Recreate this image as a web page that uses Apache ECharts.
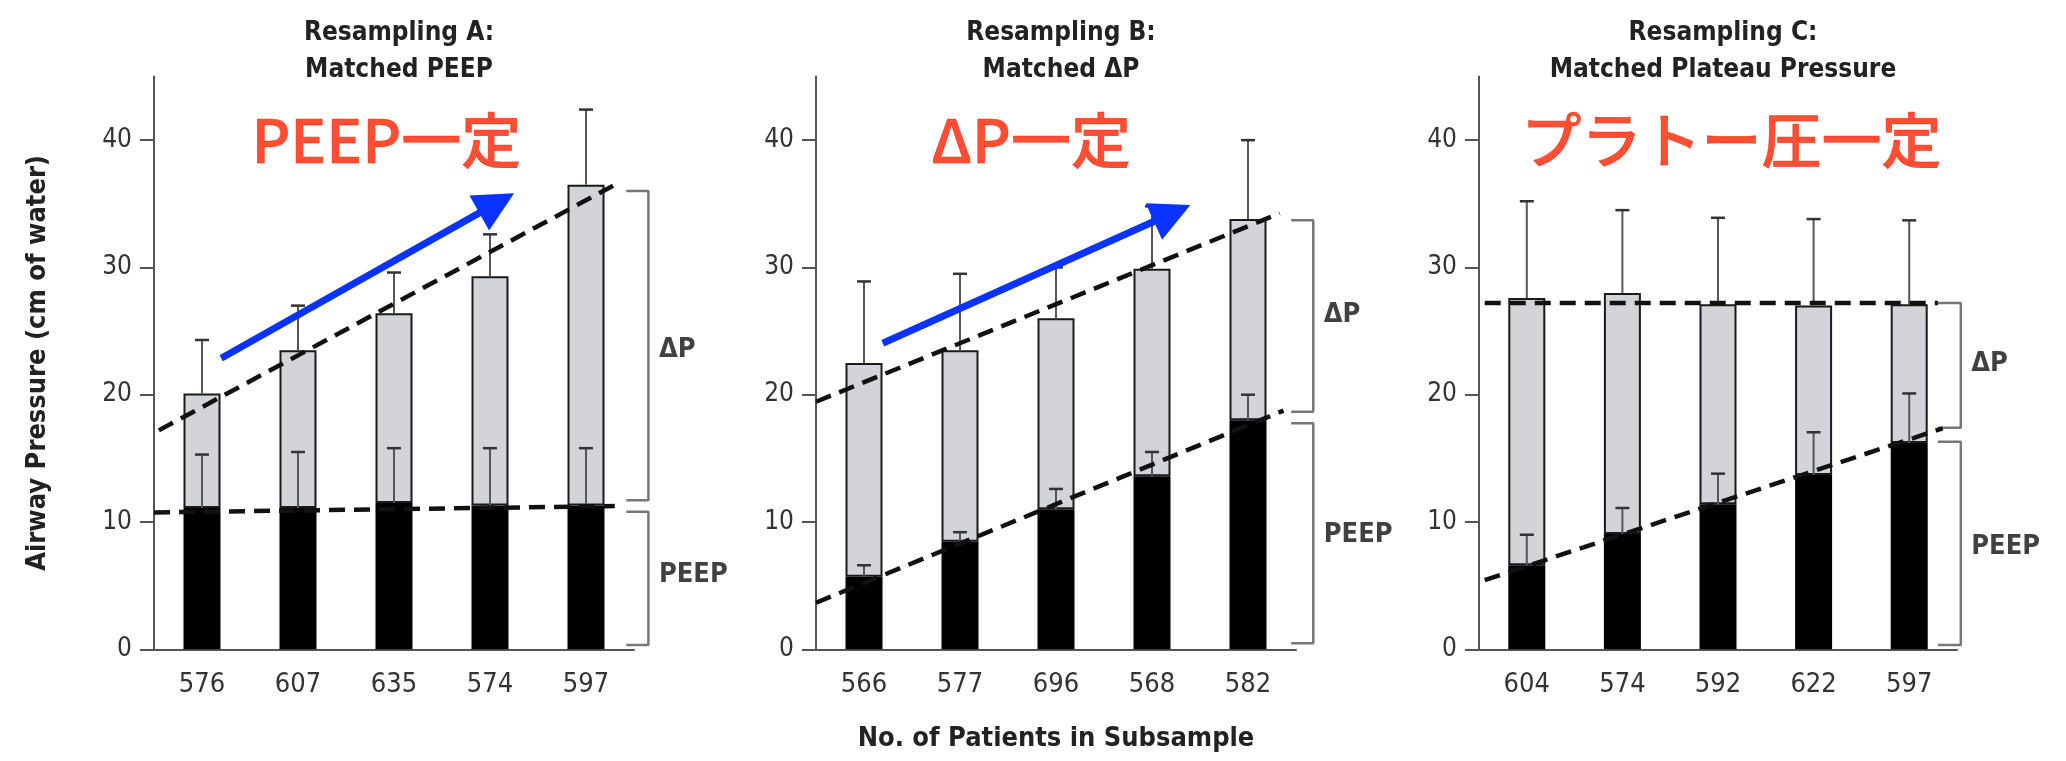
<!DOCTYPE html>
<html>
<head>
<meta charset="utf-8">
<script src="https://cdn.jsdelivr.net/npm/echarts@6/dist/echarts.min.js"></script>
<style>
  html, body { margin: 0; padding: 0; background: #fff; }
  #chart { width: 2066px; height: 761px; }
</style>
</head>
<body>
<div id="chart"></div>
<script>
// Number of patients in each subsample (x categories)
const patientsA = ['576', '607', '635', '574', '597'];
const patientsB = ['566', '577', '696', '568', '582'];
const patientsC = ['604', '574', '592', '622', '597'];

// Mean PEEP (black segment) and upper end of its SD whisker, cm H2O
const peepA = [11.1, 11.1, 11.5, 11.3, 11.3];
const peepErrA = [15.3, 15.5, 15.8, 15.8, 15.8];
const peepB = [5.7, 8.45, 11.0, 13.6, 18.0];
const peepErrB = [6.6, 9.2, 12.6, 15.5, 20.0];
const peepC = [6.6, 9.05, 11.4, 13.7, 16.2];
const peepErrC = [9.0, 11.1, 13.8, 17.05, 20.1];

// Mean plateau pressure (top of grey segment) and upper end of its SD whisker
const plateauA = [20.1, 23.5, 26.4, 29.3, 36.5];
const plateauErrA = [24.3, 27.0, 29.6, 32.6, 42.4];
const plateauB = [22.5, 23.5, 26.0, 29.9, 33.8];
const plateauErrB = [28.9, 29.5, 30.0, 34.8, 40.0];
const plateauC = [27.6, 28.0, 27.1, 27.0, 27.1];
const plateauErrC = [35.2, 34.5, 33.9, 33.8, 33.7];

// Dashed trend lines, [x, y] with x in category units (first bar = 0)
const trendPlateauA = [[-0.45, 17.2], [4.35, 36.7]];
const trendPeepA = [[-0.5, 10.75], [4.3, 11.25]];
const trendPlateauB = [[-0.5, 19.45], [4.33, 34.25]];
const trendPeepB = [[-0.5, 3.66], [4.37, 18.75]];
const trendPlateauC = [[-0.44, 27.2], [4.3, 27.2]];
const trendPeepC = [[-0.44, 5.44], [4.35, 17.36]];

// Right-hand braces: [tick start x, spine x], ΔP span, PEEP span
const braceXA = [4.42, 4.65], braceDpA = [11.7, 36.0], bracePeepA = [0.34, 10.8];
const braceXB = [4.45, 4.68], braceDpB = [18.66, 33.7], bracePeepB = [0.47, 17.75];
const braceXC = [4.30, 4.54], braceDpC = [17.4, 27.2], bracePeepC = [0.34, 16.3];
const braceLabelYA = [23.5, 5.8], braceLabelYB = [26.3, 9.0], braceLabelYC = [22.4, 8.0];

// Red call-outs and blue trend arrows
const notes = ['PEEP一定', 'ΔP一定', 'プラトー圧一定'];
const notePos = [[1.92, 40.0], [1.74, 40.0], [2.14, 40.0]];
const arrowA = [[0.2, 22.86], [3.07, 35.05]];
const arrowB = [[0.195, 24.04], [3.21, 34.26]];

const yTicks = [0, 10, 20, 30, 40];
const titles = ['Resampling A:\nMatched PEEP', 'Resampling B:\nMatched ΔP', 'Resampling C:\nMatched Plateau Pressure'];

const FONT = "'DejaVu Sans Condensed', 'DejaVu Sans', sans-serif";
const gridLeft = [154, 816, 1479];
const gridWidth = [480, 480, 478];
const gridTop = 76.5;
const gridHeight = 572.8;
// annotation layer: same scale as the bar grid, but wider so braces can sit past the axis end
const OVER = 1.2;

const panels = [
  { cats: patientsA, peep: peepA, peepErr: peepErrA, plat: plateauA, platErr: plateauErrA,
    trendTop: trendPlateauA, trendBottom: trendPeepA, braceX: braceXA, braceDp: braceDpA,
    bracePeep: bracePeepA, labelY: braceLabelYA, arrow: arrowA },
  { cats: patientsB, peep: peepB, peepErr: peepErrB, plat: plateauB, platErr: plateauErrB,
    trendTop: trendPlateauB, trendBottom: trendPeepB, braceX: braceXB, braceDp: braceDpB,
    bracePeep: bracePeepB, labelY: braceLabelYB, arrow: arrowB },
  { cats: patientsC, peep: peepC, peepErr: peepErrC, plat: plateauC, platErr: plateauErrC,
    trendTop: trendPlateauC, trendBottom: trendPeepC, braceX: braceXC, braceDp: braceDpC,
    bracePeep: bracePeepC, labelY: braceLabelYC, arrow: null }
];

const grid = [], xAxis = [], yAxis = [], series = [], title = [];

function errorBars(ai, base, top) {
  return {
    type: 'custom', xAxisIndex: ai, yAxisIndex: ai, z: 4, silent: true,
    encode: { x: 0, y: [1, 2] },
    data: base.map((b, i) => [i, b, top[i]]),
    renderItem(params, api) {
      const x = api.value(0);
      const p0 = api.coord([x, api.value(1)]);
      const p1 = api.coord([x, api.value(2)]);
      const cap = 7;
      return {
        type: 'group', children: [
          { type: 'line', shape: { x1: p0[0], y1: p0[1], x2: p1[0], y2: p1[1] },
            style: { stroke: '#555', lineWidth: 2 } },
          { type: 'line', shape: { x1: p1[0] - cap, y1: p1[1], x2: p1[0] + cap, y2: p1[1] },
            style: { stroke: '#333', lineWidth: 2.5 } }
        ]
      };
    }
  };
}

function dashed(oi, pts) {
  return {
    type: 'line', xAxisIndex: oi, yAxisIndex: oi, data: pts, symbol: 'none',
    silent: true, z: 6,
    lineStyle: { color: '#111', width: 4.5, type: [16, 9] }
  };
}

function brace(oi, bx, span) {
  return {
    type: 'line', xAxisIndex: oi, yAxisIndex: oi, symbol: 'none', silent: true,
    data: [[bx[0], span[1]], [bx[1], span[1]], [bx[1], span[0]], [bx[0], span[0]]],
    lineStyle: { color: '#777', width: 2.5 }
  };
}

panels.forEach((p, gi) => {
  const mi = gi * 2;      // bar grid / axes
  const oi = gi * 2 + 1;  // annotation grid / axes
  grid.push({ left: gridLeft[gi], top: gridTop, width: gridWidth[gi], height: gridHeight });
  grid.push({ left: gridLeft[gi], top: gridTop, width: gridWidth[gi] * OVER, height: gridHeight });
  title.push({
    text: titles[gi], left: gridLeft[gi] + gridWidth[gi] / 2, top: 10, textAlign: 'center',
    textStyle: { fontFamily: FONT, fontSize: 26, fontWeight: 'bold', color: '#222', lineHeight: 37 }
  });
  xAxis.push({
    type: 'category', gridIndex: mi, data: p.cats, boundaryGap: true,
    axisLine: { lineStyle: { color: '#555', width: 2 } },
    axisTick: { alignWithLabel: true, length: 13, lineStyle: { color: '#555', width: 2 } },
    axisLabel: { margin: 22, fontFamily: FONT, fontSize: 27, color: '#333' },
    name: gi === 1 ? 'No. of Patients in Subsample' : '',
    nameLocation: 'middle', nameGap: 76,
    nameTextStyle: { fontFamily: FONT, fontSize: 27, fontWeight: 'bold', color: '#222' }
  });
  xAxis.push({ type: 'value', gridIndex: oi, min: -0.5, max: -0.5 + 5 * OVER, show: false });
  yAxis.push({
    type: 'value', gridIndex: mi, min: 0, max: 45,
    splitLine: { show: false },
    axisLine: { show: true, lineStyle: { color: '#555', width: 2 } },
    axisTick: { show: true, length: 14, customValues: yTicks, lineStyle: { color: '#555', width: 2 } },
    axisLabel: { margin: 22, customValues: yTicks, fontFamily: FONT, fontSize: 26, color: '#333' },
    name: gi === 0 ? 'Airway Pressure (cm of water)' : '',
    nameLocation: 'middle', nameGap: 103, nameRotate: 90,
    nameTextStyle: { fontFamily: FONT, fontSize: 27, fontWeight: 'bold', color: '#222' }
  });
  yAxis.push({ type: 'value', gridIndex: oi, min: 0, max: 45, show: false });

  // stacked bars: PEEP (black) + ΔP (grey) = plateau pressure
  series.push({
    type: 'bar', xAxisIndex: mi, yAxisIndex: mi, stack: 'p' + gi, barWidth: 37, silent: true,
    data: p.peep, itemStyle: { color: '#000' }, z: 2
  });
  series.push({
    type: 'bar', xAxisIndex: mi, yAxisIndex: mi, stack: 'p' + gi, barWidth: 37, silent: true,
    data: p.plat.map((v, i) => +(v - p.peep[i]).toFixed(2)),
    itemStyle: { color: '#d3d4d8', borderColor: '#1a1a1a', borderWidth: 2 }, z: 2
  });
  series.push(errorBars(mi, p.peep, p.peepErr));
  series.push(errorBars(mi, p.plat, p.platErr));
  series.push(dashed(oi, p.trendTop));
  series.push(dashed(oi, p.trendBottom));
  series.push(brace(oi, p.braceX, p.braceDp));
  series.push(brace(oi, p.braceX, p.bracePeep));

  // brace labels
  series.push({
    type: 'scatter', xAxisIndex: oi, yAxisIndex: oi, silent: true,
    symbolSize: 1, itemStyle: { color: 'rgba(0,0,0,0)' },
    data: [
      { name: 'ΔP', value: [p.braceX[1], p.labelY[0]] },
      { name: 'PEEP', value: [p.braceX[1], p.labelY[1]] }
    ],
    label: { show: true, position: 'right', distance: 10, formatter: '{b}',
      fontFamily: FONT, fontSize: 27, fontWeight: 'bold', color: '#111' }
  });

  // red call-out
  series.push({
    type: 'scatter', xAxisIndex: oi, yAxisIndex: oi, silent: true,
    symbolSize: 1, itemStyle: { color: 'rgba(0,0,0,0)' }, z: 8,
    data: [{ name: notes[gi], value: notePos[gi] }],
    label: { show: true, position: 'inside', formatter: '{b}',
      fontFamily: "'Noto Sans CJK JP', sans-serif", fontSize: 60, fontWeight: 500,
      color: '#ff2200', textBorderColor: '#ff2200', textBorderWidth: 0.6 }
  });

  // blue arrow
  if (p.arrow) {
    series.push({
      type: 'lines', coordinateSystem: 'cartesian2d', xAxisIndex: oi, yAxisIndex: oi,
      silent: true, z: 9, symbol: ['none', 'triangle'], symbolSize: [34, 40],
      lineStyle: { color: '#0a33ff', width: 7, opacity: 1 },
      data: [{ coords: p.arrow }]
    });
  }
});

const chart = echarts.init(document.getElementById('chart'), null, { renderer: 'canvas' });
chart.setOption({
  animation: false,
  backgroundColor: '#fff',
  textStyle: { fontFamily: FONT },
  title, grid, xAxis, yAxis, series
});
</script>
</body>
</html>
